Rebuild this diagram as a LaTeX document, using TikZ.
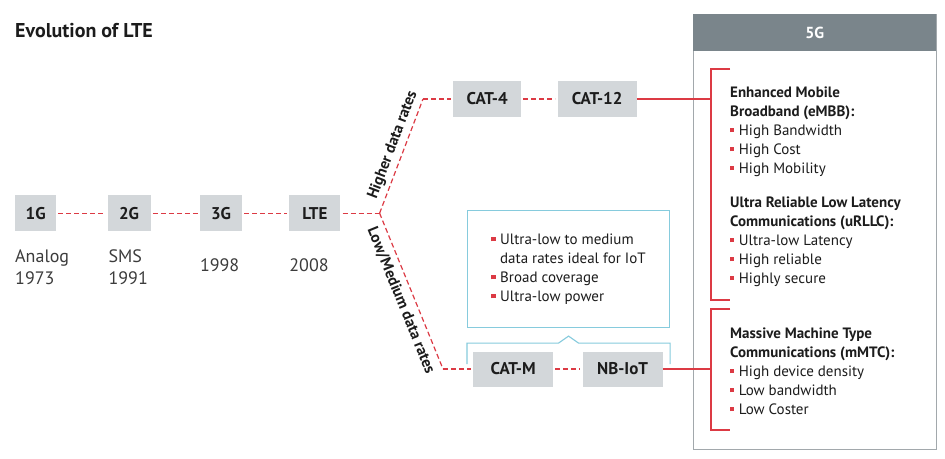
\documentclass[tikz,border=0pt]{standalone}
\usepackage{fontspec}
\setmainfont{PT Sans}
\usetikzlibrary{positioning,calc}
\definecolor{Ink}{HTML}{1C1C1C}
\definecolor{Muted}{HTML}{3C3C3C}
\definecolor{BoxGray}{HTML}{D3D7DA}
\definecolor{Crimson}{HTML}{DC3A44}
\definecolor{Sky}{HTML}{86CBDD}
\definecolor{Slate}{HTML}{7A858B}
\definecolor{Frame}{HTML}{A2A8AC}
\newcommand{\redbullet}{{\color{Crimson}\rule[0.2em]{0.28em}{0.28em}}\hspace{0.3em}}
\tikzset{
  genbox/.style={fill=BoxGray,minimum height=36pt,inner sep=0pt,font=\fontsize{17}{17}\selectfont\bfseries,text=Ink},
  catbox/.style={fill=BoxGray,minimum height=36pt,inner sep=0pt,font=\fontsize{17}{17}\selectfont\bfseries,text=Ink},
  yeartext/.style={inner sep=0pt,align=left,font=\fontsize{18}{22}\selectfont,text=Muted},
  titletext/.style={inner sep=0pt,font=\fontsize{20}{20}\selectfont\bfseries,text=Ink},
  ratelabel/.style={sloped,inner sep=4pt,font=\fontsize{15.5}{15.5}\selectfont\bfseries,text=Ink},
  pointtext/.style={inner sep=0pt,align=left,font=\fontsize{15}{19}\selectfont,text=Ink},
  infobox/.style={draw=Sky,line width=1.1pt,inner sep=0pt,align=left,font=\fontsize{15}{19}\selectfont,text=Ink},
  panelframe/.style={draw=Frame,line width=1.4pt,inner sep=0pt},
  panelhead/.style={fill=Slate,inner sep=0pt,font=\fontsize{16}{16}\selectfont\bfseries,text=white},
  dashline/.style={draw=Crimson,line width=1.2pt,dash pattern=on 5pt off 3pt,shorten <=2pt,shorten >=2pt},
  solidline/.style={draw=Crimson,line width=1.2pt},
  skyline/.style={draw=Sky,line width=1.1pt}
}
\begin{document}
\begin{tikzpicture}[x=1pt,y=-1pt,node distance=10pt and 50pt]
  \useasboundingbox[fill=white] (0,0) rectangle (945,458);
  \node[titletext,anchor=base west] (title) at (15,37) {Evolution of LTE};

  % generations
  \node[genbox,minimum width=41pt,anchor=north west] (g1) at (15,195) {1G};
  \node[genbox,minimum width=43pt,right=51pt of g1] (g2) {2G};
  \node[genbox,minimum width=42pt,right=49pt of g2] (g3) {3G};
  \node[genbox,minimum width=51pt,right=47pt of g3] (lte) {LTE};
  \node[yeartext,below right=18pt and 0pt of g1.south west] (y1) {Analog\\1973};
  \node[yeartext,below right=18pt and 1pt of g2.south west] (y2) {SMS\\1991};
  \node[yeartext,below right=18pt and 0pt of g3.south west] (y3) {\mbox{}\\1998};
  \node[yeartext,below right=18pt and 0pt of lte.south west] (y4) {\mbox{}\\2008};
  \draw[dashline] (g1) -- (g2);
  \draw[dashline] (g2) -- (g3);
  \draw[dashline] (g3) -- (lte);

  % fork
  \coordinate (fork) at ([xshift=39pt]lte.east);
  \coordinate (up) at (423,99);
  \coordinate (low) at (443,369);
  \node[catbox,minimum width=68pt,right=30pt of up] (cat4) {CAT-4};
  \node[catbox,minimum width=79pt,right=36pt of cat4] (cat12) {CAT-12};
  \node[catbox,minimum width=80pt,minimum height=35pt,right=30pt of low] (catm) {CAT-M};
  \node[catbox,minimum width=80pt,minimum height=35pt,right=29pt of catm] (nbiot) {NB-IoT};
  \draw[dashline,shorten >=0pt] (lte) -- (fork);
  \draw[dashline,shorten <=0pt,shorten >=0pt] (fork) -- (up) node[ratelabel,pos=0.56,above] (hi) {Higher data rates};
  \draw[dashline,shorten <=0pt] (up) -- (cat4);
  \draw[dashline] (cat4) -- (cat12);
  \draw[dashline,shorten <=0pt,shorten >=0pt] (fork) -- (low) node[ratelabel,pos=0.53,below,inner sep=6pt] (lo) {Low/Medium data rates};
  \draw[dashline,shorten <=0pt] (low) -- (catm);
  \draw[dashline] (catm) -- (nbiot);

  % IoT info
  \node[infobox,minimum width=202pt,minimum height=117pt,anchor=north west] (info) at (467,210)
    {\redbullet Ultra-low to medium\\\hphantom{\redbullet}data rates ideal for IoT\\\redbullet Broad coverage\\\redbullet Ultra-low power};
  \draw[skyline] ([yshift=-36pt]info.south west) -- ([yshift=-15pt]info.south west)
    -- ([xshift=-10pt,yshift=-15pt]info.south) -- ([yshift=-8pt]info.south)
    -- ([xshift=10pt,yshift=-15pt]info.south) -- ([yshift=-15pt]info.south east)
    -- ([yshift=-36pt]info.south east);

  % 5G panel
  \node[panelframe,minimum width=243pt,minimum height=435pt,anchor=north west] (panel) at (693,14) {};
  \node[panelhead,minimum width=243pt,minimum height=37pt,anchor=north west] (head) at (panel.north west) {5G};
  \coordinate (b1top) at (730,69);
  \coordinate (b1bot) at (730,300);
  \coordinate (b2top) at (730,309);
  \coordinate (b2bot) at (730,430);
  \coordinate (spine1) at (711,69);
  \coordinate (spine2) at (711,309);
  \draw[solidline] (b1top) -- (spine1) -- (spine1 |- b1bot) -- (b1bot);
  \draw[solidline] (b2top) -- (spine2) -- (spine2 |- b2bot) -- (b2bot);
  \draw[solidline] (cat12) -- (cat12 -| spine1);
  \draw[solidline] (nbiot) -- (nbiot -| spine2);
  \node[pointtext,anchor=base west] (embb) at (730,173)
    {\textbf{Enhanced Mobile}\\\textbf{Broadband (eMBB):}\\\redbullet High Bandwidth\\\redbullet High Cost\\\redbullet High Mobility};
  \node[pointtext,anchor=base west] (urllc) at (730,283)
    {\textbf{Ultra Reliable Low Latency}\\\textbf{Communications (uRLLC):}\\\redbullet Ultra-low Latency\\\redbullet High reliable\\\redbullet Highly secure};
  \node[pointtext,anchor=base west] (mmtc) at (730,414)
    {\textbf{Massive Machine Type}\\\textbf{Communications (mMTC):}\\\redbullet High device density\\\redbullet Low bandwidth\\\redbullet Low Coster};
\end{tikzpicture}
\end{document}
